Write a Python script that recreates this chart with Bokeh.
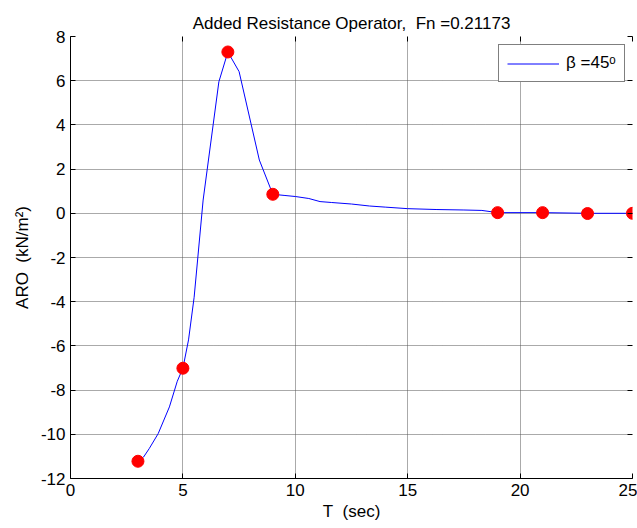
from bokeh.plotting import figure
from bokeh.models import (Range1d, FixedTicker, Legend, LegendItem, LinearAxis,
                          CustomJSTickFormatter)
from bokeh.embed import file_html
from bokeh.resources import INLINE

# Added resistance operator curve, interpolated over wave period T
t_curve = [3.0, 3.25, 3.5, 3.9, 4.4, 4.75, 5.0, 5.25, 5.5, 5.9, 6.6, 7.0, 7.5, 8.4,
           9.0, 9.5, 10.0, 10.6, 11.1, 11.6, 12.5, 13.3, 14.0, 15.0, 16.3, 17.5,
           18.3, 19.0, 21.0, 23.0, 25.0]
aro_curve = [-11.22, -11.03, -10.65, -9.97, -8.76, -7.6, -7.01, -5.73, -3.8, 0.6,
             5.95, 7.30, 6.41, 2.41, 0.86, 0.81, 0.76, 0.67, 0.53, 0.49, 0.42, 0.33,
             0.28, 0.21, 0.17, 0.15, 0.13, 0.03, 0.03, 0.0, 0.0]

# Computed periods (red markers)
t_pts = [3, 5, 7, 9, 19, 21, 23, 25]
aro_pts = [-11.22, -7.01, 7.30, 0.86, 0.03, 0.03, -0.01, 0.0]

x_ticks = [0, 5, 10, 15, 20, 25]
y_ticks = [-12, -10, -8, -6, -4, -2, 0, 2, 4, 6, 8]

FONT = "Liberation Sans"
NBSP = "\u00a0"
BLUE = "#0000ff"

p = figure(width=637, height=528, output_backend="svg", toolbar_location=None,
           x_range=Range1d(0, 25), y_range=Range1d(-12, 8),
           min_border_left=70, min_border_right=5, min_border_top=36,
           min_border_bottom=50,
           title="Added Resistance Operator," + NBSP + " Fn =0.21173")

p.title.align = "center"
p.title.text_font = FONT
p.title.text_font_size = "17px"
p.title.text_font_style = "normal"
p.title.text_color = "black"
p.title.standoff = 7

p.outline_line_color = None
p.background_fill_color = "white"
p.border_fill_color = "white"

plain = CustomJSTickFormatter(code="return tick.toString();")

for ax in (p.xaxis, p.yaxis):
    ax.axis_line_color = "black"
    ax.axis_line_width = 1
    ax.major_tick_in = 5
    ax.major_tick_out = 0
    ax.minor_tick_line_color = None
    ax.major_tick_line_color = "black"
    ax.major_label_text_font = FONT
    ax.major_label_text_font_size = "17px"
    ax.major_label_text_color = "black"
    ax.axis_label_text_font = FONT
    ax.axis_label_text_font_size = "17px"
    ax.axis_label_text_font_style = "normal"
    ax.axis_label_text_color = "black"
    ax.formatter = plain

p.xaxis.ticker = FixedTicker(ticks=x_ticks)
p.yaxis.ticker = FixedTicker(ticks=y_ticks)
p.xaxis.major_label_standoff = 5
p.yaxis.major_label_standoff = 5
p.xaxis.axis_label = "T" + NBSP + " (sec)"
p.yaxis.axis_label = "ARO" + NBSP + " (kN/m\u00b2)"
p.xaxis.axis_label_standoff = 3
p.yaxis.axis_label_standoff = 6

# Box edges: tick marks only, on the top and right sides
for side, ticks in (("above", x_ticks), ("right", y_ticks)):
    edge = LinearAxis(ticker=FixedTicker(ticks=ticks), axis_line_color=None,
                      major_tick_in=5, major_tick_out=0,
                      major_tick_line_color="black",
                      minor_tick_line_color=None, major_label_standoff=0,
                      major_label_text_font_size="0px",
                      major_label_text_alpha=0)
    p.add_layout(edge, side)

for g in (p.xgrid, p.ygrid):
    g.grid_line_color = "#555555"
    g.grid_line_dash = "1 1"
    g.grid_line_width = 1

line = p.line(t_curve, aro_curve, line_color=BLUE, line_width=1)
p.scatter(t_pts, aro_pts, size=12, fill_color="#ff0000", line_color="#ff0000")

legend = Legend(items=[LegendItem(label="\u03b2 =45\u1d52", renderers=[line])],
                location=(428, 396), padding=8, margin=0, spacing=0,
                glyph_width=52, glyph_height=17, label_height=17,
                label_standoff=7, label_text_font=FONT,
                label_text_font_size="17px", label_text_color="black",
                border_line_color="black", border_line_width=1,
                background_fill_color="white", background_fill_alpha=1)
p.add_layout(legend)

open("out.html", "w").write(file_html(p, INLINE))
